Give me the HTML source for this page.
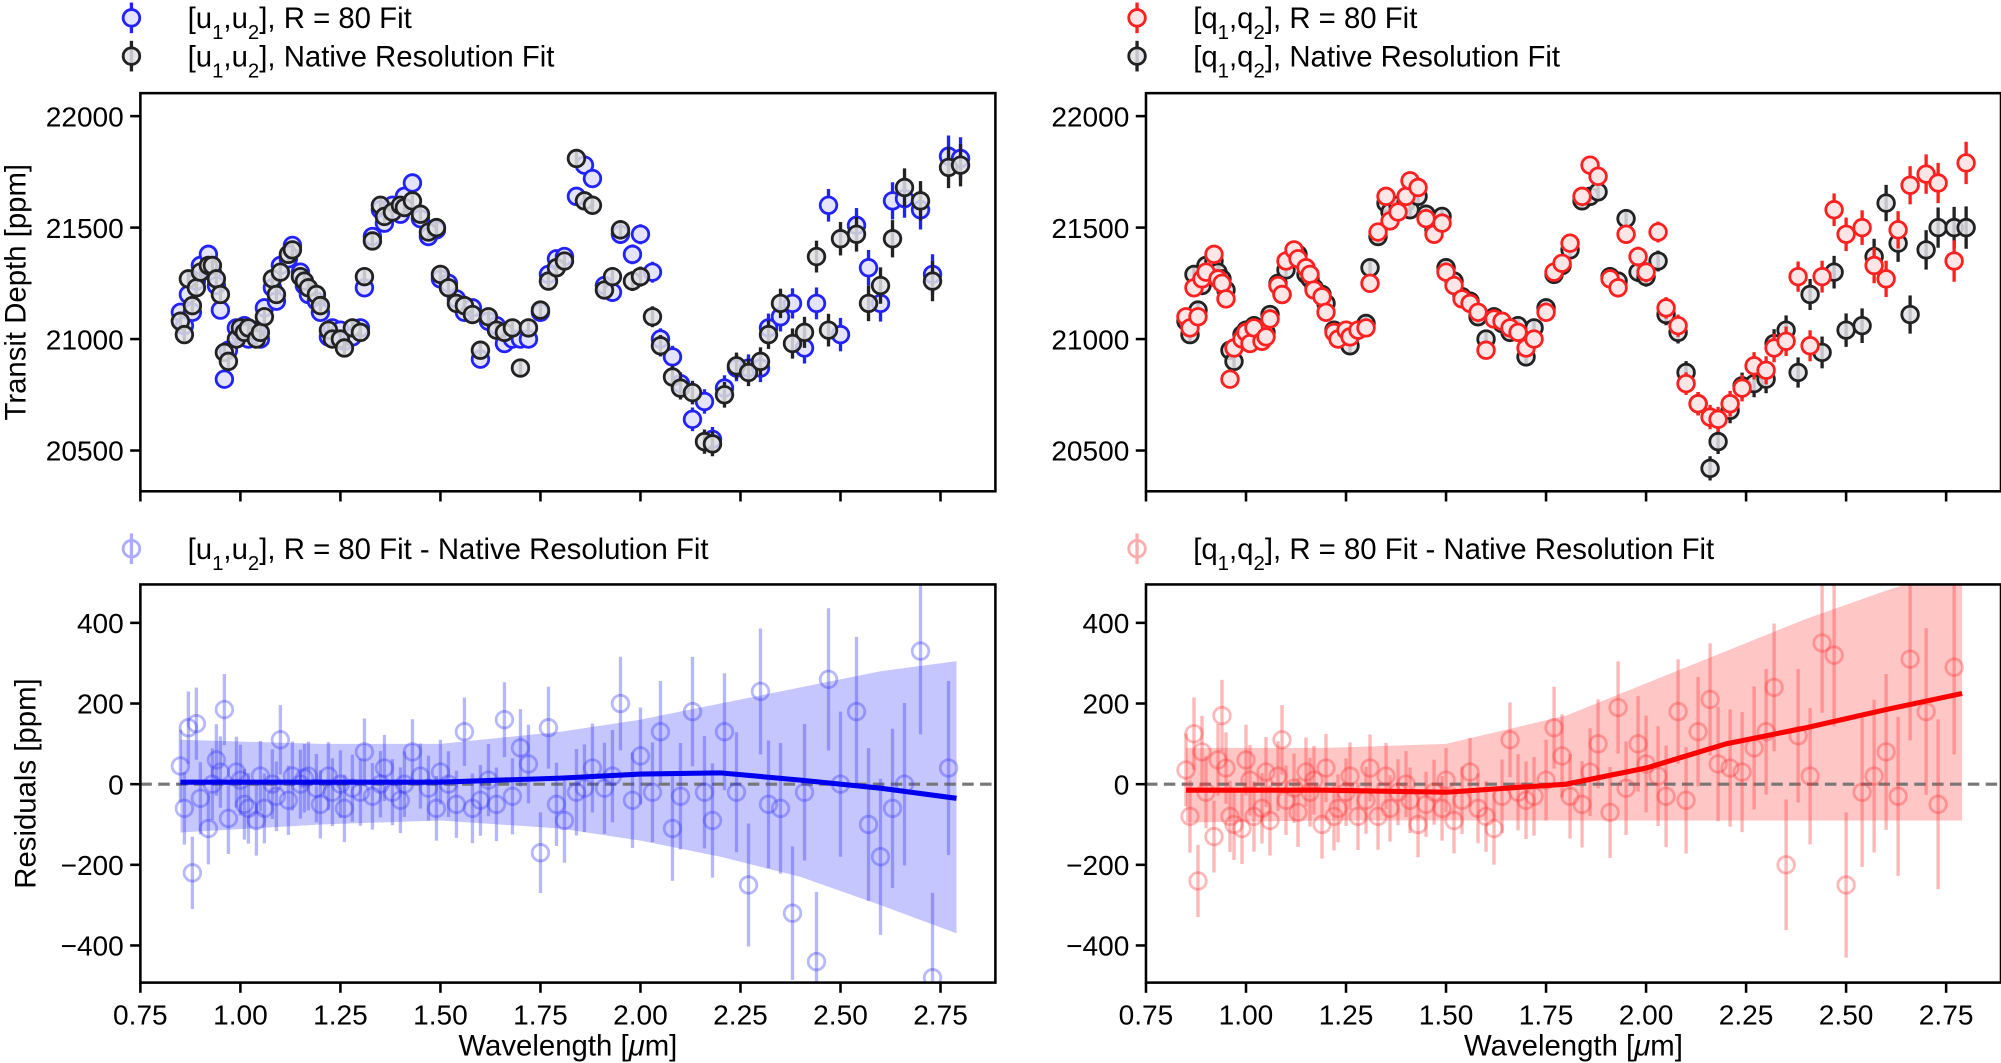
<!DOCTYPE html>
<html><head><meta charset="utf-8"><style>
html,body{margin:0;padding:0;background:#fff;}
svg{display:block;font-family:"Liberation Sans","DejaVu Sans",sans-serif;}
</style></head><body>
<svg id="fig" width="2001" height="1063" viewBox="0 0 1568 833" preserveAspectRatio="none" xmlns="http://www.w3.org/2000/svg"></svg>
<script>
const wl=[0.85,0.86,0.87,0.88,0.89,0.90,0.92,0.93,0.94,0.95,0.96,0.97,0.99,1.00,1.01,1.02,1.04,1.05,1.06,1.08,1.09,1.10,1.12,1.13,1.15,1.16,1.17,1.19,1.20,1.22,1.23,1.25,1.26,1.28,1.30,1.31,1.33,1.35,1.36,1.38,1.40,1.41,1.43,1.45,1.47,1.49,1.50,1.52,1.54,1.56,1.58,1.60,1.62,1.64,1.66,1.68,1.70,1.72,1.75,1.77,1.79,1.81,1.84,1.86,1.88,1.91,1.93,1.95,1.98,2.00,2.03,2.05,2.08,2.10,2.13,2.16,2.18,2.21,2.24,2.27,2.30,2.32,2.35,2.38,2.41,2.44,2.47,2.50,2.54,2.57,2.60,2.63,2.66,2.70,2.73,2.77,2.80];
const nativeU=[21080,21020,21270,21150,21230,21300,21330,21330,21270,21200,20940,20900,21000,21050,21030,21050,21000,21030,21100,21270,21200,21300,21380,21400,21280,21260,21230,21200,21150,21040,21000,21000,20960,21050,21030,21280,21440,21600,21550,21570,21600,21590,21620,21560,21480,21500,21290,21230,21160,21150,21110,20950,21100,21040,21030,21050,20870,21050,21130,21260,21320,21350,21810,21620,21600,21220,21280,21490,21260,21280,21100,20970,20830,20780,20760,20540,20530,20750,20880,20850,20900,21020,21160,20980,21030,21370,21040,21450,21470,21160,21240,21450,21680,21620,21260,21770,21780];
const r80U=[21120,21060,21200,21120,21260,21330,21380,21300,21240,21130,20820,20950,21050,21020,21060,21000,21040,21000,21140,21230,21170,21330,21360,21420,21300,21240,21200,21170,21120,21010,21050,21040,20990,21010,21050,21230,21460,21580,21520,21600,21560,21640,21700,21540,21460,21490,21270,21250,21180,21120,21140,20910,21080,21060,20980,21000,21000,21000,21120,21290,21360,21370,21640,21780,21720,21240,21210,21470,21380,21470,21300,21000,20920,20800,20640,20720,20550,20780,20870,20870,20870,21050,21100,21160,20960,21160,21600,21020,21510,21320,21160,21620,21630,21580,21290,21820,21810];
const nativeQ=[21080,21020,21290,21130,21240,21330,21350,21300,21270,21220,20950,20900,21020,21040,21010,21060,21020,21030,21110,21250,21200,21310,21390,21380,21290,21270,21230,21200,21160,21040,21010,21020,20970,21040,21070,21320,21460,21610,21570,21600,21610,21580,21640,21560,21490,21550,21320,21260,21190,21170,21100,21000,21100,21070,21030,21060,20920,21050,21140,21290,21330,21400,21620,21640,21660,21280,21260,21540,21300,21280,21350,21110,21030,20850,20710,20420,20540,20680,20790,20800,20820,20980,21040,20850,21200,20940,21300,21040,21060,21370,21610,21430,21110,21400,21500,21500,21500];
const r80Q=[21100,21050,21230,21100,21270,21300,21380,21270,21250,21180,20820,20960,21000,21030,20980,21050,20990,21010,21090,21240,21200,21350,21400,21360,21320,21290,21220,21190,21120,21030,21000,21040,21010,21040,21050,21250,21480,21640,21530,21570,21640,21710,21680,21540,21470,21520,21300,21240,21180,21160,21120,20950,21090,21080,21050,21030,20960,21000,21120,21300,21340,21430,21640,21780,21730,21270,21230,21470,21370,21300,21480,21140,21060,20800,20710,20650,20640,20710,20780,20880,20860,20960,20990,21280,20970,21280,21580,21470,21500,21330,21270,21490,21690,21740,21700,21350,21790];
const residU=[45,-60,140,-220,150,-35,-110,0,60,30,185,-85,30,10,-50,-60,-90,20,-60,0,-30,110,-40,20,0,15,20,-10,-50,20,-20,0,-60,-10,-20,80,-30,0,40,-20,-40,0,80,20,-10,-60,30,0,-50,130,-60,-40,10,-50,160,-30,90,50,-170,140,-50,-90,-20,-10,40,-10,20,200,-40,70,-20,130,-110,-30,180,-20,-90,130,-20,-250,230,-50,-60,-320,-20,-440,260,0,180,-100,-180,-60,0,330,-480,40];
const residQ=[35,-80,125,-240,80,-20,-130,60,170,40,-80,-100,-110,60,10,-80,-60,30,-90,20,110,-40,-10,-70,30,-20,10,-100,40,-80,-60,-20,20,-80,-40,40,-80,20,-60,-20,0,-40,-100,-50,-20,-60,10,-90,-40,30,-60,-80,-110,-30,110,-20,-40,-30,10,140,70,-30,-50,30,100,-70,190,-10,100,50,20,-30,180,-40,130,210,50,40,30,90,130,240,-200,120,20,350,320,-250,-20,20,80,-30,310,180,-50,290];
const errWl=[0.85,1.5,2.0,2.5,2.8];
const errTop=[35,30,45,75,95];
const errRes=[90,80,120,180,220];
const bandWl=[0.85,1.2,1.5,1.8,2.0,2.2,2.4,2.6,2.79];
const meanU=[5,5,5,15,25,28,10,-10,-35];
const loU=[-120,-100,-90,-110,-140,-180,-230,-300,-370];
const hiU=[110,100,100,130,160,200,240,280,305];
const meanQ=[-15,-15,-20,0,40,100,140,185,225];
const loQ=[-95,-90,-90,-90,-90,-90,-90,-90,-90];
const hiQ=[90,90,100,170,250,330,410,480,540];
const xTicks=[0.75,1.00,1.25,1.50,1.75,2.00,2.25,2.50,2.75];
const yTopTicks=[20500,21000,21500,22000];
const yResTicks=[-400,-200,0,200,400];

const NS="http://www.w3.org/2000/svg";
const svg=document.getElementById('fig');
function mk(tag,at,parent){const e=document.createElementNS(NS,tag);for(const k in at)e.setAttribute(k,at[k]);(parent||svg).appendChild(e);return e;}
function interp(x,xs,ys){if(x<=xs[0])return ys[0];for(let i=1;i<xs.length;i++){if(x<=xs[i]){const t=(x-xs[i-1])/(xs[i]-xs[i-1]);return ys[i-1]+t*(ys[i]-ys[i-1]);}}return ys[ys.length-1];}

function makePanel(x0,top,isRes,name){
  const W=670,H=312;
  const sx=v=>x0+(v-0.75)*313.5;
  const sy=isRes?(v=>614.5-(v*0.316)):(v=>91+(22000-v)*0.1747);
  const g=mk('g',{});
  
  
  const clipId='c'+name;
  const cp=mk('clipPath',{id:clipId},g);mk('rect',{x:x0,y:top,width:W,height:H},cp);
  const plot=mk('g',{'clip-path':`url(#${clipId})`},g);
  const fr=mk('rect',{x:x0,y:top,width:W,height:H,fill:'none',stroke:'#000','stroke-width':2},g);
  
  
  xTicks.forEach(t=>{
    const tk=mk('line',{x1:sx(t),x2:sx(t),y1:top+H,y2:top+H+8,stroke:'#000','stroke-width':2},g);
    
    
    if(isRes){
      const tl=mk('text',{x:sx(t),y:top+H+33,'text-anchor':'middle','font-size':22},g);tl.textContent=t.toFixed(2);
      
      
    }
  });
  (isRes?yResTicks:yTopTicks).forEach(t=>{
    const tk=mk('line',{x1:x0-8,x2:x0,y1:sy(t),y2:sy(t),stroke:'#000','stroke-width':2},g);
    
    
    const tl=mk('text',{x:x0-13,y:sy(t)+8,'text-anchor':'end','font-size':22},g);tl.textContent=t<0?'\u2212'+(-t):String(t);
    
    
  });
  return {sx,sy,plot,g};
}

function pts(p,vals,color,fill,err,alpha,nm){
  const n=Math.min(wl.length,vals.length);
  for(let i=0;i<n;i++){
    const x=p.sx(wl[i]),y=p.sy(vals[i]);const e=interp(wl[i],errWl,err);
    const l=mk('line',{x1:x,x2:x,y1:p.sy(vals[i]+e),y2:p.sy(vals[i]-e),stroke:color,'stroke-width':2.6,opacity:alpha},p.plot);
    
    
    const c=mk('circle',{cx:x,cy:y,r:6.5,fill:fill,stroke:color,'stroke-width':2.2,opacity:alpha},p.plot);
    
    
  }
}
function band(p,lo,hi,mean,fillc,linec,nm){
  let d='';bandWl.forEach((w,i)=>{d+=(i?'L':'M')+p.sx(w)+','+p.sy(hi[i]);});
  for(let i=bandWl.length-1;i>=0;i--)d+='L'+p.sx(bandWl[i])+','+p.sy(lo[i]);
  const b=mk('path',{d:d+'Z',fill:fillc,stroke:'none'},p.plot);
  
  
  const z=mk('line',{x1:p.sx(0.75),x2:p.sx(2.89),y1:p.sy(0),y2:p.sy(0),stroke:'#777','stroke-width':2.5,'stroke-dasharray':'9,5'},p.plot);
  
  
  return ()=>{
    let m='';bandWl.forEach((w,i)=>{m+=(i?'L':'M')+p.sx(w)+','+p.sy(mean[i]);});
    const ml=mk('path',{d:m,fill:'none',stroke:linec,'stroke-width':4},p.plot);
    
    
  };
}

const greyFill='rgba(225,225,230,0.85)';
const pTL=makePanel(110,73,false,'panel-top-left');
pts(pTL,r80U,'#2222ff','#e4e4ff',errTop,1,'r80-u');
pts(pTL,nativeU,'#222',greyFill,errTop,1,'native-u');
const pTR=makePanel(898,73,false,'panel-top-right');
pts(pTR,nativeQ,'#222',greyFill,errTop,1,'native-q');
pts(pTR,r80Q,'#ff2020','#ffe6e6',errTop,1,'r80-q');
const pBL=makePanel(110,458,true,'panel-bottom-left');
const fL=band(pBL,loU,hiU,meanU,'#c6c6ff','#0000ee','resid-u');
pts(pBL,residU,'#3333ff','none',errRes,0.35,'resid-u');fL();
const pBR=makePanel(898,458,true,'panel-bottom-right');
const fR=band(pBR,loQ,hiQ,meanQ,'#ffc6c6','#ff0000','resid-q');
pts(pBR,residQ,'#ff3333','none',errRes,0.35,'resid-q');fR();

function legend(x,y,color,fill,alpha,label,nm){
  const g=mk('g',{opacity:alpha});
  
  
  mk('line',{x1:x,x2:x,y1:y-12,y2:y+12,stroke:color,'stroke-width':2.6},g);
  mk('circle',{cx:x,cy:y,r:6.5,fill:fill,stroke:color,'stroke-width':2.2},g);
  const t=mk('text',{x:x+44,y:y+8,'font-size':23,fill:'#000'});t.innerHTML=label;
  
  
}
const sub=s=>`<tspan baseline-shift="sub" font-size="16">${s}</tspan>`;
legend(103,14,'#2222ff','#e4e4ff',1,`[u${sub(1)},u${sub(2)}], R = 80 Fit`,'legend-r80-u');
legend(103,44,'#222',greyFill,1,`[u${sub(1)},u${sub(2)}], Native Resolution Fit`,'legend-native-u');
legend(891,14,'#ff2020','#ffe6e6',1,`[q${sub(1)},q${sub(2)}], R = 80 Fit`,'legend-r80-q');
legend(891,44,'#222',greyFill,1,`[q${sub(1)},q${sub(2)}], Native Resolution Fit`,'legend-native-q');
legend(103,430,'#3333ff','none',0.4,`[u${sub(1)},u${sub(2)}], R = 80 Fit - Native Resolution Fit`,'legend-resid-u');
legend(891,430,'#ff3333','none',0.4,`[q${sub(1)},q${sub(2)}], R = 80 Fit - Native Resolution Fit`,'legend-resid-q');

function title(x,y,txt,rot,nm){const t=mk('text',{x:x,y:y,'text-anchor':'middle','font-size':23,transform:rot?`rotate(-90 ${x} ${y})`:''});t.innerHTML=txt;
  
  }
title(20,229,'Transit Depth [ppm]',true,'y-axis-title-top');
title(28,614,'Residuals [ppm]',true,'y-axis-title-bottom');
title(445,827,'Wavelength [<tspan font-style="italic">μ</tspan>m]',false,'x-axis-title-left');
title(1233,827,'Wavelength [<tspan font-style="italic">μ</tspan>m]',false,'x-axis-title-right');
</script>
</body></html>
